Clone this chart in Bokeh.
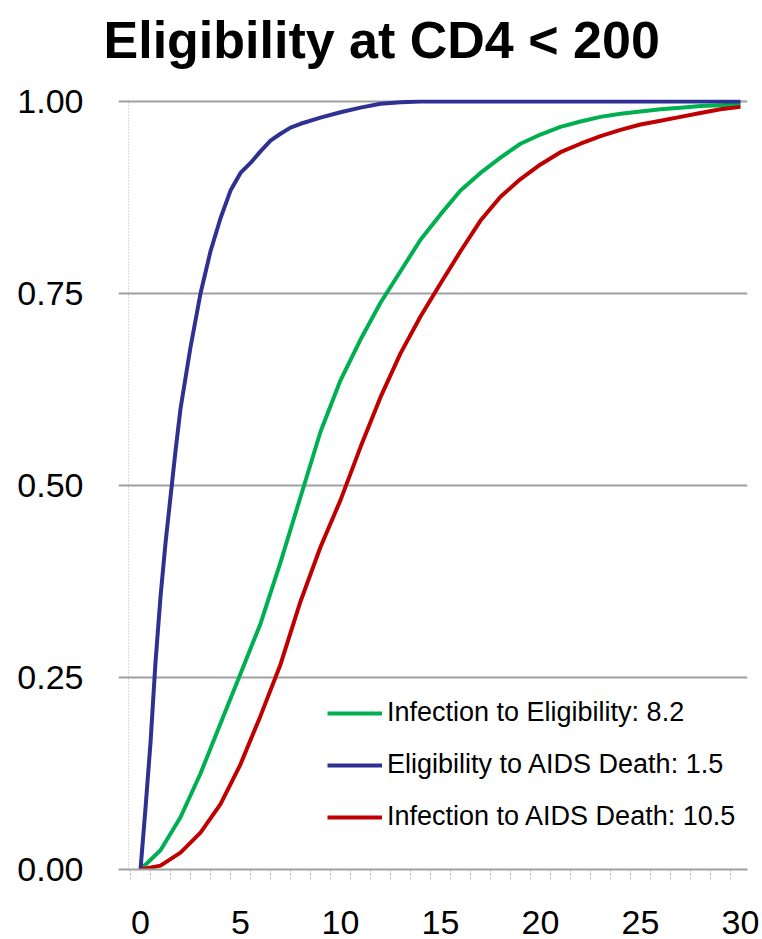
from bokeh.plotting import figure
from bokeh.models import (Range1d, FixedTicker, Span, Legend, LegendItem, Title,
                          CustomJSTickFormatter)
from bokeh.embed import file_html
from bokeh.resources import INLINE

# ---- data ----
years_inf_elig = list(range(0, 31))
inf_to_elig = [0, 0.025, 0.068, 0.125, 0.19, 0.255, 0.32, 0.40, 0.485, 0.57,
               0.637, 0.69, 0.738, 0.779, 0.82, 0.853, 0.884, 0.907, 0.927, 0.945,
               0.957, 0.967, 0.974, 0.98, 0.984, 0.987, 0.99, 0.992, 0.994, 0.995, 0.996]

years_elig_death = [0, 0.25, 0.5, 0.75, 1, 1.25, 1.5, 1.75, 2,
                    2.5, 3, 3.5, 4, 4.5, 5, 5.5, 6, 6.5, 7, 7.5, 8,
                    9, 10, 11, 12, 13, 14,
                    16, 18, 20, 22, 24, 26, 28, 30]
elig_to_death = [0, 0.08, 0.165, 0.27, 0.355, 0.425, 0.485, 0.545, 0.60,
                 0.68, 0.75, 0.805, 0.848, 0.884, 0.907, 0.92, 0.935, 0.949, 0.958, 0.966, 0.971,
                 0.979, 0.986, 0.992, 0.997, 0.999, 1.0,
                 1.0, 1.0, 1.0, 1.0, 1.0, 1.0, 1.0, 1.0]

years_inf_death = list(range(0, 31))
inf_to_death = [0, 0.005, 0.022, 0.048, 0.085, 0.137, 0.20, 0.267, 0.349, 0.42,
                0.481, 0.55, 0.615, 0.672, 0.72, 0.763, 0.805, 0.845, 0.876, 0.899,
                0.918, 0.934, 0.945, 0.955, 0.963, 0.97, 0.975, 0.98, 0.985, 0.99, 0.993]

title_text = "Eligibility at CD4 < 200"
legend_labels = ["Infection to Eligibility: 8.2",
                 "Eligibility to AIDS Death: 1.5",
                 "Infection to AIDS Death: 10.5"]
colors = ["#00B050", "#2E3192", "#C00000"]

x_ticks = [0, 5, 10, 15, 20, 25, 30]
x_minor = [i + 0.5 for i in range(-1, 30)]
y_ticks = [0, 0.25, 0.5, 0.75, 1.0]

FONT = "Liberation Sans"

p = figure(width=762, height=939, output_backend="svg", toolbar_location=None,
           x_range=Range1d(-1.1, 30.35), y_range=Range1d(0, 1.0026),
           min_border_left=118, min_border_right=15, min_border_top=99,
           min_border_bottom=70)
p.outline_line_color = None
p.background_fill_color = "white"
p.border_fill_color = "white"

# spacer next to the frame, then the real title stacked above it
p.add_layout(Title(text=" ", text_font_size="1px", standoff=28), "above")
p.add_layout(Title(text=title_text, text_font=FONT, text_font_size="52px",
                   text_font_style="bold", text_color="black", align="left",
                   offset=-15, standoff=0), "above")

# axes
xa = p.xaxis[0]
xa.ticker = FixedTicker(ticks=x_ticks, minor_ticks=x_minor)
xa.major_tick_line_color = None
xa.major_tick_out = 0
xa.major_tick_in = 0
xa.minor_tick_line_color = "#B0B0B0"
xa.minor_tick_line_dash = "2 2"
xa.minor_tick_out = 10
xa.minor_tick_in = 0
xa.axis_line_color = "#A0A0A0"
xa.axis_line_width = 2
xa.major_label_text_font = FONT
xa.major_label_text_font_size = "34px"
xa.major_label_text_color = "black"
xa.major_label_standoff = 31

ya = p.yaxis[0]
ya.ticker = FixedTicker(ticks=y_ticks)
ya.formatter = CustomJSTickFormatter(code="return tick.toFixed(2);")
ya.major_tick_line_color = None
ya.major_tick_out = 0
ya.major_tick_in = 0
ya.minor_tick_line_color = None
ya.axis_line_color = None
ya.major_label_text_font = FONT
ya.major_label_text_font_size = "34px"
ya.major_label_text_color = "black"
ya.major_label_standoff = 35

p.xgrid.grid_line_color = None
p.ygrid.ticker = FixedTicker(ticks=[0.25, 0.5, 0.75, 1.0])
p.ygrid.grid_line_color = "#A0A0A0"
p.ygrid.grid_line_width = 2

# dotted value-axis line
p.add_layout(Span(location=-0.6, dimension="height", line_color="#B8B8B8",
                  line_dash="1 2", line_width=1))

r_green = p.line(years_inf_elig, inf_to_elig, line_color=colors[0], line_width=4)
r_blue = p.line(years_elig_death, elig_to_death, line_color=colors[1], line_width=4)
r_red = p.line(years_inf_death, inf_to_death, line_color=colors[2], line_width=4)

legend = Legend(items=[LegendItem(label=legend_labels[0], renderers=[r_green]),
                       LegendItem(label=legend_labels[1], renderers=[r_blue]),
                       LegendItem(label=legend_labels[2], renderers=[r_red])],
                location=(209, 37))
legend.glyph_width = 55
legend.glyph_height = 30
legend.label_standoff = 5
legend.spacing = 21
legend.padding = 0
legend.margin = 0
legend.border_line_color = None
legend.background_fill_alpha = 0
legend.label_text_font = FONT
legend.label_text_font_size = "27px"
legend.label_text_color = "black"
p.add_layout(legend, "center")

open("out.html", "w").write(file_html(p, INLINE))
